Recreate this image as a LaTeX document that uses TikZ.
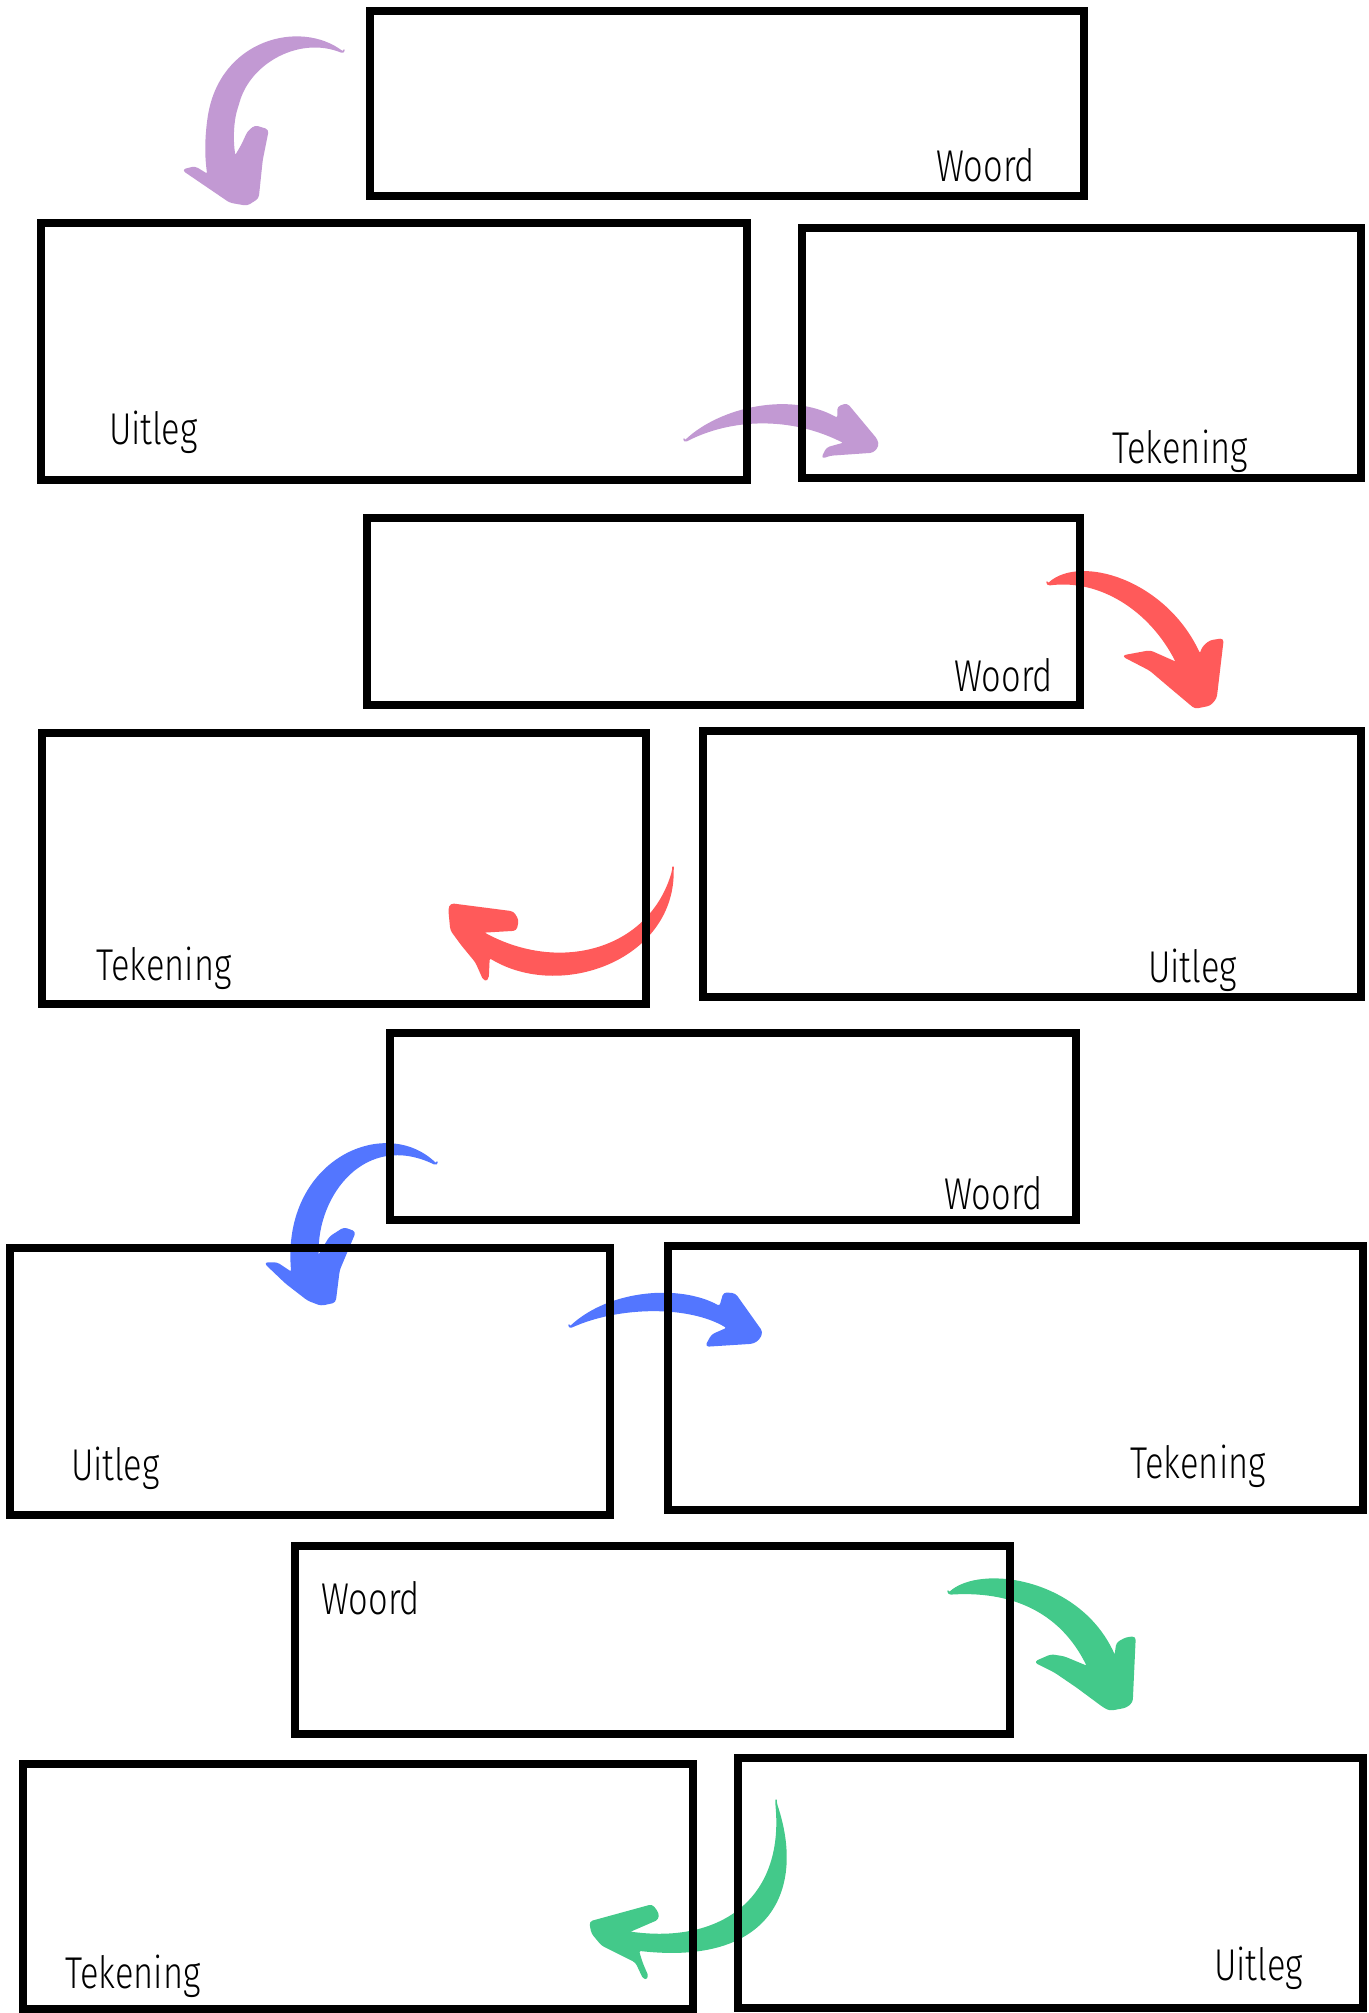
\documentclass[tikz,border=0pt]{standalone}
\usepackage{fontspec}
\newfontfamily\lblfont{Fira Sans Light}
\pgfdeclarelayer{bg}
\pgfsetlayers{bg,main}
\definecolor{cpurp}{RGB}{194,153,211}
\definecolor{cred}{RGB}{255,90,90}
\definecolor{cblue}{RGB}{83,118,255}
\definecolor{cgreen}{RGB}{67,201,138}
\tikzset{
  panel/.style={draw=black, line width=8pt, inner sep=0pt, outer sep=0pt},
  lbl/.style={inner sep=0pt, anchor=base west, font=\lblfont\fontsize{42}{42}\selectfont},
  brush/.style={line width=1.5pt, line join=round, rounded corners=3pt},
}
\newcommand{\lab}[1]{\scalebox{0.82}[1.06]{#1}}
\begin{document}
\begin{tikzpicture}[x=1pt,y=-1pt]
\useasboundingbox (0,0) rectangle (1368,2013);
% panels
\node[panel, minimum width=714pt, minimum height=185pt] (b1) at (727,103.5) {};
\node[panel, minimum width=706pt, minimum height=257pt] (b2) at (394,351.5) {};
\node[panel, minimum width=559pt, minimum height=250pt] (b3) at (1081.5,353) {};
\node[panel, minimum width=713pt, minimum height=187pt] (b4) at (723.5,611.5) {};
\node[panel, minimum width=604pt, minimum height=271pt] (b5) at (344,868.5) {};
\node[panel, minimum width=658pt, minimum height=266pt] (b6) at (1032,864) {};
\node[panel, minimum width=686pt, minimum height=187pt] (b7) at (733,1126.5) {};
\node[panel, minimum width=600pt, minimum height=267pt] (b8) at (310,1381.5) {};
\node[panel, minimum width=695pt, minimum height=264pt] (b9) at (1015.5,1378) {};
\node[panel, minimum width=715pt, minimum height=188pt] (b10) at (652.5,1640) {};
\node[panel, minimum width=670pt, minimum height=245pt] (b11) at (358,1886.5) {};
\node[panel, minimum width=625pt, minimum height=250pt] (b12) at (1050.5,1883) {};
% labels
\node[lbl] (t1) at (936,181) {\lab{Woord}};
\node[lbl] (t2) at (109,444) {\lab{Uitleg}};
\node[lbl] (t3) at (1112,463) {\lab{Tekening}};
\node[lbl] (t4) at (954,691) {\lab{Woord}};
\node[lbl] (t5) at (96,980) {\lab{Tekening}};
\node[lbl] (t6) at (1148,982) {\lab{Uitleg}};
\node[lbl] (t7) at (944,1209) {\lab{Woord}};
\node[lbl] (t8) at (71,1480) {\lab{Uitleg}};
\node[lbl] (t9) at (1130,1478) {\lab{Tekening}};
\node[lbl] (t10) at (321,1614) {\lab{Woord}};
\node[lbl] (t11) at (65,1988) {\lab{Tekening}};
\node[lbl] (t12) at (1214,1980) {\lab{Uitleg}};
% brush arrows (below the panels)
\begin{pgfonlayer}{bg}
% purple: b1 -> b2
\coordinate (a1s) at (344,53); \coordinate (a1e) at (247,205);
\filldraw[cpurp, brush] (a1s) .. controls (300,20) and (220,40) .. (208,120)
  .. controls (205,145) and (206,160) .. (208,175) -- (195,167) -- (183,170)
  -- (230,202) -- (a1e) -- (258,198) -- (262,160) -- (268,130) -- (255,126)
  -- (248,132) -- (242,145) -- (235,157)
  .. controls (232,140) and (233,120) .. (238,105)
  .. controls (250,62) and (300,35) .. (a1s) -- cycle;
% purple: b2 -> b3
\coordinate (a2s) at (684,442); \coordinate (a2e) at (878,446);
\filldraw[cpurp, brush] (a2s) .. controls (720,408) and (790,392) .. (838,419)
  -- (838,407) -- (847,404) -- (877,440) -- (a2e) -- (873,452) -- (830,455)
  -- (822,458) -- (827,448) -- (845,443)
  .. controls (790,415) and (730,418) .. (a2s) -- cycle;
% red: b4 -> b6
\coordinate (a3s) at (1047,585); \coordinate (a3e) at (1195,708);
\filldraw[cred, brush] (a3s) .. controls (1080,555) and (1165,580) .. (1200,655)
  -- (1203,647) -- (1210,641) -- (1223,639) -- (1216,698) -- (1210,705) -- (a3e)
  -- (1170,687) -- (1150,670) -- (1123,656) -- (1150,651) -- (1177,663)
  .. controls (1150,610) and (1100,578) .. (a3s) -- cycle;
% red: b6 -> b5
\coordinate (a4s) at (673,870); \coordinate (a4e) at (449,909);
\filldraw[cred, brush] (a4s) .. controls (672,960) and (560,1000) .. (489,957)
  -- (488,979) -- (484,980) -- (476,962) -- (462,945) -- (451,930) -- (a4e)
  -- (451,904) -- (513,912) -- (518,920) -- (516,930) -- (482,932)
  .. controls (560,975) and (650,950) .. (a4s) -- cycle;
% blue: b7 -> b8
\coordinate (a5s) at (437,1165); \coordinate (a5e) at (321,1305);
\filldraw[cblue, brush] (a5s) .. controls (385,1115) and (282,1160) .. (292,1273)
  -- (277,1263) -- (265,1263) -- (286,1283) -- (308,1300) -- (a5e) -- (335,1302)
  -- (339,1270) -- (355,1232) -- (344,1228) -- (330,1237) -- (318,1257)
  .. controls (316,1195) and (365,1130) .. (a5s) -- cycle;
% blue: b8 -> b9
\coordinate (a6s) at (569,1328); \coordinate (a6e) at (762,1332);
\filldraw[cblue, brush] (a6s) .. controls (610,1290) and (680,1285) .. (720,1307)
  -- (724,1293) -- (735,1294) -- (a6e) -- (759,1339) -- (753,1343) -- (706,1346)
  -- (712,1335) -- (728,1328)
  .. controls (690,1305) and (620,1305) .. (a6s) -- cycle;
% green: b10 -> b12
\coordinate (a7s) at (948,1594); \coordinate (a7e) at (1110,1710);
\filldraw[cgreen, brush] (a7s) .. controls (980,1565) and (1080,1578) .. (1115,1657)
  -- (1117,1643) -- (1126,1638) -- (1135,1637) -- (1132,1702) -- (1126,1707) -- (a7e)
  -- (1104,1707) -- (1077,1687) -- (1055,1672) -- (1035,1662) -- (1051,1655)
  -- (1064,1657) -- (1088,1667)
  .. controls (1060,1610) and (1010,1590) .. (a7s) -- cycle;
% green: b12 -> b11
\coordinate (a8s) at (776,1803); \coordinate (a8e) at (590,1922);
\filldraw[cgreen, brush] (a8s) .. controls (805,1890) and (770,1965) .. (638,1950)
  -- (642,1963) -- (648,1977) -- (644,1979) -- (636,1962) -- (602,1945)
  -- (592,1933) -- (a8e) -- (652,1905) -- (658,1913) -- (658,1919) -- (628,1932)
  .. controls (720,1945) and (785,1900) .. (a8s) -- cycle;
\end{pgfonlayer}
\end{tikzpicture}
\end{document}
